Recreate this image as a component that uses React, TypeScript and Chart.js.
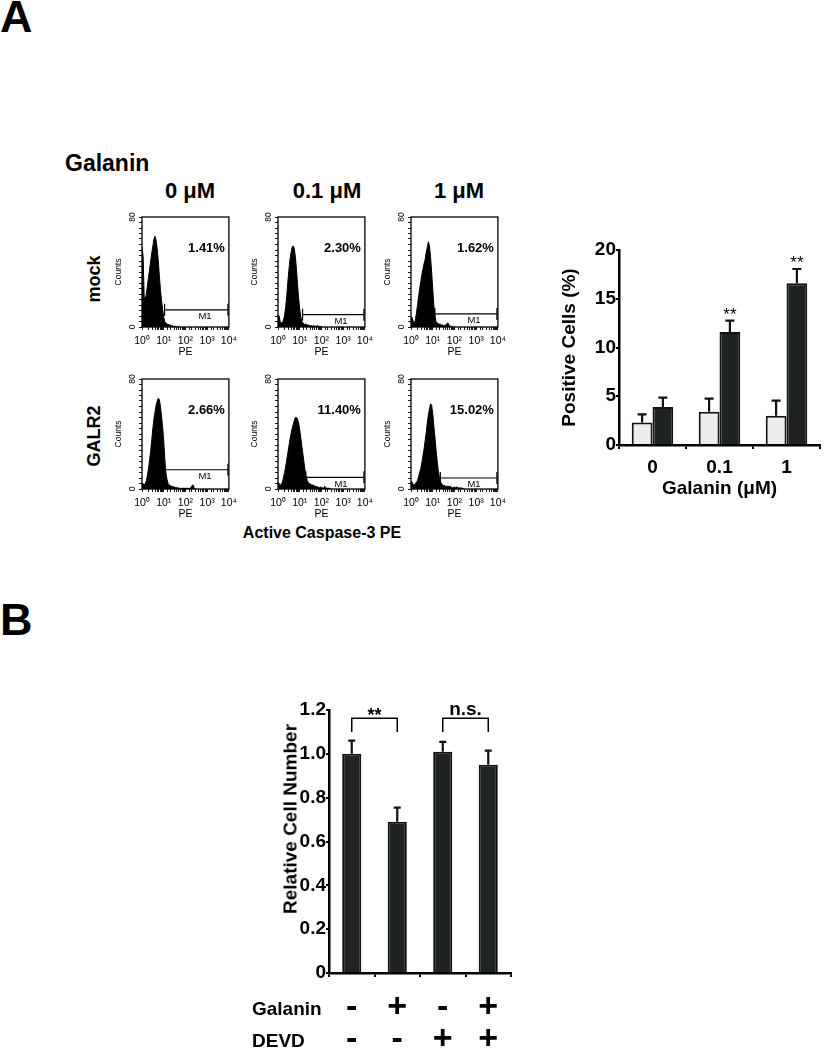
import React, { useEffect, useRef } from 'react';
import { Chart, registerables } from 'chart.js';

Chart.register(...registerables);

const FONT = '"Liberation Sans", Arial, Helvetica, sans-serif';

// ---------------- Panel A: flow histograms ----------------
const concentrationLabels = ['0 μM', '0.1 μM', '1 μM'];
const cellLineLabels = ['mock', 'GALR2'];
const binStep = 0.05; // log10(PE) width of one histogram bin, bins start at 10^0

const histMock0 = [58, 52, 22, 20, 24, 30, 36, 42, 48, 54, 59, 64, 66, 63, 57, 48, 37, 27, 19, 13, 7, 4, 3, 2, 2, 1.5, 1.5, 1, 1, 0.5, 0.5, 0.5, 0, 0.5, 0, 0];
const histMock01 = [9, 8, 4, 3, 3, 5, 8, 14, 22, 32, 41, 49, 54, 58, 59, 57, 51, 42, 31, 21, 13, 7, 4, 3, 2, 2, 2, 1.5, 1.5, 1, 1, 1, 0.5, 1, 0.5, 0.5, 1, 0.5, 0.5, 0, 0.5, 0];
const histMock1 = [7, 7, 4, 3, 5, 10, 16, 22, 28, 33, 38, 42, 46, 49, 54, 58, 62, 59, 51, 40, 28, 16, 8, 4, 3, 2.5, 2, 2, 1.5, 1.5, 1, 1, 1.5, 2.5, 3, 1.5, 0.5, 0.5, 0.5, 0];
const histGalr0 = [4, 4, 3, 4, 6, 10, 15, 21, 28, 36, 44, 51, 56, 61, 64, 66, 65, 60, 53, 45, 35, 22, 12, 7, 4, 3, 2.5, 2, 2, 1.5, 1.5, 1, 1, 1, 0.5, 0.5, 0.5, 0.5, 0.5, 0.5, 0.5, 0.5, 0.5, 0.5, 0.5, 1, 2.5, 3, 1, 0];
const histGalr01 = [5, 4, 3, 3, 5, 8, 12, 16, 21, 26, 31, 36, 40, 44, 47, 50, 52, 52, 51, 48, 43, 37, 31, 25, 19, 13, 9, 6, 4.5, 4, 3.5, 3, 3, 2.5, 2, 2, 1.5, 1.5, 1, 1.5, 1, 1, 0.5, 2, 1, 0.5, 0.5, 0.5, 0.5, 0];
const histGalr1 = [6, 5, 3, 3, 4, 5, 6, 9, 12, 15, 19, 24, 29, 35, 41, 48, 54, 58, 62, 61, 55, 46, 38, 29, 21, 14, 9, 5.5, 4, 3, 2.5, 2.5, 2, 2, 2, 1.5, 2, 1.5, 1, 1, 1.5, 1, 1.5, 1, 1, 0.5, 1, 0.5, 0.5, 0];

const histograms = [histMock0, histMock01, histMock1, histGalr0, histGalr01, histGalr1];
const positivePercentLabels = ['1.41%', '2.30%', '1.62%', '2.66%', '11.40%', '15.02%'];
const m1GateStart = [1.04, 1.13, 1.1, 1.03, 1.28, 1.35]; // log10(PE)
const m1GateLevel = [12.5, 9, 9.5, 14, 8.5, 8]; // counts
const histCountTicks = [0, 80];
const histDecadeLabels = ['10⁰', '10¹', '10²', '10³', '10⁴'];

// ---------------- Panel A: bar chart ----------------
const galaninDoses = ['0', '0.1', '1'];
const mockPositive = [2.3, 3.4, 3.0];
const mockPositiveSD = [0.85, 1.35, 1.55];
const galr2Positive = [3.9, 11.6, 16.6];
const galr2PositiveSD = [0.95, 1.15, 1.45];
const galr2Significance = ['', '**', '**'];

// ---------------- Panel B ----------------
const treatmentGalanin = ['-', '+', '-', '+'];
const treatmentDEVD = ['-', '-', '+', '+'];
const relativeCellNumber = [1.0, 0.69, 1.01, 0.95];
const relativeCellNumberSD = [0.06, 0.065, 0.045, 0.065];
const bracketPairs = [
  { from: 0, to: 1, text: '**', level: 1.162, leg: 1.1 },
  { from: 2, to: 3, text: 'n.s.', level: 1.162, leg: 1.1 },
];

// ---------------- plugins ----------------
const histDecorPlugin = {
  id: 'histDecor',
  afterDraw(chart: any, _a: any, opts: any) {
    const { ctx, chartArea: a, scales } = chart;
    const xs = scales.x;
    const ys = scales.y;
    ctx.save();
    ctx.strokeStyle = '#000';
    ctx.lineWidth = 1.3;
    ctx.strokeRect(a.left, a.top, a.right - a.left, a.bottom - a.top);

    ctx.fillStyle = '#000';
    ctx.font = `8.5px ${FONT}`;
    ctx.textAlign = 'center';
    ctx.textBaseline = 'middle';
    for (const v of histCountTicks) {
      const py = ys.getPixelForValue(v);
      ctx.save();
      ctx.translate(a.left - 9, py);
      ctx.rotate(-Math.PI / 2);
      ctx.fillText(String(v), 0, 0);
      ctx.restore();
    }

    // M1 gate
    const gy = ys.getPixelForValue(opts.m1Level);
    const gx0 = xs.getPixelForValue(Math.pow(10, opts.m1Start));
    const gx1 = a.right - 1;
    ctx.lineWidth = 1.2;
    ctx.beginPath();
    ctx.moveTo(gx0, gy);
    ctx.lineTo(gx1, gy);
    ctx.moveTo(gx0, gy - 6);
    ctx.lineTo(gx0, Math.min(gy + 6, a.bottom));
    ctx.moveTo(gx1, gy - 6);
    ctx.lineTo(gx1, Math.min(gy + 6, a.bottom));
    ctx.stroke();
    ctx.font = `9.5px ${FONT}`;
    ctx.textBaseline = 'top';
    ctx.fillText('M1', xs.getPixelForValue(Math.pow(10, 2.9)), gy + 2);

    ctx.font = `bold 13px ${FONT}`;
    ctx.textAlign = 'right';
    ctx.textBaseline = 'middle';
    ctx.fillText(opts.pct, a.right - 4, a.top + 31);
    ctx.restore();
  },
};

const errorBarPlugin = {
  id: 'errorBars',
  afterDatasetsDraw(chart: any, _a: any, opts: any) {
    const { ctx } = chart;
    const ys = chart.scales.y;
    chart.data.datasets.forEach((ds: any, di: number) => {
      const meta = chart.getDatasetMeta(di);
      if (!ds.sd) return;
      ds.sd.forEach((sd: number, i: number) => {
        const el = meta.data[i];
        const v = ds.data[i];
        const yTop = ys.getPixelForValue(v + sd);
        ctx.save();
        ctx.strokeStyle = '#111';
        ctx.lineWidth = opts.lineWidth;
        ctx.beginPath();
        ctx.moveTo(el.x, el.y);
        ctx.lineTo(el.x, yTop);
        ctx.moveTo(el.x - opts.cap / 2, yTop);
        ctx.lineTo(el.x + opts.cap / 2, yTop);
        ctx.stroke();
        if (ds.marks && ds.marks[i]) {
          ctx.fillStyle = '#000';
          ctx.font = `17px ${FONT}`;
          ctx.textAlign = 'center';
          ctx.textBaseline = 'alphabetic';
          ctx.fillText(ds.marks[i], el.x, yTop - 1);
        }
        ctx.restore();
      });
    });
  },
};

const bracketPlugin = {
  id: 'brackets',
  afterDatasetsDraw(chart: any) {
    const { ctx } = chart;
    const ys = chart.scales.y;
    const meta = chart.getDatasetMeta(0);
    ctx.save();
    ctx.strokeStyle = '#000';
    ctx.fillStyle = '#000';
    ctx.lineWidth = 1.5;
    for (const b of bracketPairs) {
      const x0 = meta.data[b.from].x;
      const x1 = meta.data[b.to].x;
      const yl = ys.getPixelForValue(b.level);
      const yg = ys.getPixelForValue(b.leg);
      ctx.beginPath();
      ctx.moveTo(x0, yg);
      ctx.lineTo(x0, yl);
      ctx.lineTo(x1, yl);
      ctx.lineTo(x1, yg);
      ctx.stroke();
      ctx.textAlign = 'center';
      ctx.textBaseline = 'alphabetic';
      if (b.text === '**') {
        ctx.font = `bold 18px ${FONT}`;
        ctx.fillText(b.text, (x0 + x1) / 2, yl + 2.5);
      } else {
        ctx.font = `bold 19px ${FONT}`;
        ctx.fillText(b.text, (x0 + x1) / 2, yl - 3.5);
      }
    }
    ctx.restore();
  },
};

// ---------------- configs ----------------
function histogramConfig(idx: number): any {
  const counts = histograms[idx];
  const points = counts.map((c, i) => ({ x: Math.pow(10, i * binStep), y: c }));
  return {
    type: 'line',
    data: {
      datasets: [
        {
          data: points,
          fill: 'origin',
          backgroundColor: '#000',
          borderColor: '#000',
          borderWidth: 1,
          pointRadius: 0,
          tension: 0,
        },
      ],
    },
    options: {
      responsive: false,
      animation: false,
      events: [],
      layout: { padding: { left: 2, right: 10, top: 10, bottom: 2 } },
      plugins: {
        legend: { display: false },
        tooltip: { enabled: false },
        histDecor: { pct: positivePercentLabels[idx], m1Start: m1GateStart[idx], m1Level: m1GateLevel[idx] },
      },
      scales: {
        x: {
          type: 'logarithmic',
          min: 1,
          max: 10000,
          border: { display: false },
          grid: { drawOnChartArea: false, drawTicks: true, tickLength: 3, color: '#000', lineWidth: 0.9 },
          ticks: {
            autoSkip: false,
            maxRotation: 0,
            minRotation: 0,
            padding: 5,
            color: '#000',
            font: { family: FONT, size: 10.5 },
            callback: (v: number) => {
              const l = Math.log10(v);
              const r = Math.round(l);
              return Math.abs(l - r) < 1e-6 ? histDecadeLabels[r] : '';
            },
          },
          title: { display: true, text: 'PE', padding: 0, color: '#000', font: { family: FONT, size: 10.5 } },
          afterFit: (s: any) => {
            s.height = 31;
          },
        },
        y: {
          min: 0,
          max: 80,
          border: { display: false },
          grid: { drawOnChartArea: false, drawTicks: true, tickLength: 3, color: '#000', lineWidth: 0.9 },
          ticks: { display: false, stepSize: 4 },
          title: { display: true, text: 'Counts', padding: 0, color: '#000', font: { family: FONT, size: 8.5 } },
          afterFit: (s: any) => {
            s.width = 28;
          },
        },
      },
    },
    plugins: [histDecorPlugin],
  };
}

function barAConfig(): any {
  const bold19 = { family: FONT, size: 19, weight: 'bold' };
  return {
    type: 'bar',
    data: {
      labels: galaninDoses,
      datasets: [
        {
          label: 'mock',
          data: mockPositive,
          sd: mockPositiveSD,
          backgroundColor: '#eceeed',
          borderColor: '#111',
          borderWidth: 2,
          categoryPercentage: 0.62,
          barPercentage: 1,
        },
        {
          label: 'GALR2',
          data: galr2Positive,
          sd: galr2PositiveSD,
          marks: galr2Significance,
          backgroundColor: '#1e2222',
          borderColor: '#111',
          borderWidth: 2,
          categoryPercentage: 0.62,
          barPercentage: 1,
        },
      ],
    },
    options: {
      responsive: false,
      animation: false,
      events: [],
      layout: { padding: { left: 0, right: 7, top: 25, bottom: 10 } },
      plugins: { legend: { display: false }, tooltip: { enabled: false }, errorBars: { lineWidth: 2.2, cap: 9 } },
      scales: {
        x: {
          border: { display: true, width: 2.5, color: '#000' },
          grid: { offset: true, drawOnChartArea: false, tickLength: 4, color: '#000', lineWidth: 2 },
          ticks: { color: '#000', font: bold19, padding: 7 },
          title: { display: true, text: 'Galanin (μM)', padding: 0, color: '#000', font: bold19 },
          afterFit: (s: any) => {
            s.height = 55;
          },
        },
        y: {
          min: 0,
          max: 20,
          border: { display: true, width: 2.5, color: '#000' },
          grid: { drawOnChartArea: false, tickLength: 3, color: '#000', lineWidth: 2 },
          ticks: { stepSize: 5, color: '#000', font: bold19, padding: 0 },
          title: { display: true, text: 'Positive Cells (%)', padding: 0, color: '#000', font: bold19 },
          afterFit: (s: any) => {
            s.width = 61;
          },
        },
      },
    },
    plugins: [errorBarPlugin],
  };
}

function barBConfig(): any {
  const bold19 = { family: FONT, size: 19, weight: 'bold' };
  return {
    type: 'bar',
    data: {
      labels: treatmentGalanin.map((g, i) => [g, treatmentDEVD[i]]),
      datasets: [
        {
          label: 'Relative Cell Number',
          data: relativeCellNumber,
          sd: relativeCellNumberSD,
          backgroundColor: '#1f2323',
          borderColor: '#111',
          borderWidth: 2,
          categoryPercentage: 1,
          barPercentage: 0.42,
        },
      ],
    },
    options: {
      responsive: false,
      animation: false,
      events: [],
      layout: { padding: { left: 0, right: 19, top: 20, bottom: 0 } },
      plugins: { legend: { display: false }, tooltip: { enabled: false }, errorBars: { lineWidth: 2.2, cap: 7 } },
      scales: {
        x: {
          border: { display: true, width: 2.5, color: '#000' },
          grid: { offset: true, drawOnChartArea: false, tickLength: 4, color: '#000', lineWidth: 2 },
          ticks: { color: '#000', font: { family: FONT, size: 34, weight: 'bold', lineHeight: '32px' }, padding: 15 },
          afterFit: (s: any) => {
            s.height = 77;
          },
        },
        y: {
          min: 0,
          max: 1.2,
          border: { display: true, width: 2.5, color: '#000' },
          grid: { drawOnChartArea: false, tickLength: 3, color: '#000', lineWidth: 2 },
          ticks: {
            stepSize: 0.2,
            color: '#000',
            font: bold19,
            padding: 0,
            callback: (v: number) => (Math.abs(v) < 1e-9 ? '0' : v.toFixed(1)),
          },
          afterFit: (s: any) => {
            s.width = 49;
          },
        },
      },
    },
    plugins: [errorBarPlugin, bracketPlugin],
  };
}

// ---------------- components ----------------
function ChartCanvas(props: { left: number; top: number; width: number; height: number; make: () => any }) {
  const ref = useRef<HTMLCanvasElement>(null);
  useEffect(() => {
    const chart = new Chart(ref.current as HTMLCanvasElement, props.make());
    return () => chart.destroy();
  }, []);
  return (
    <canvas
      ref={ref}
      width={props.width}
      height={props.height}
      style={{ position: 'absolute', left: props.left, top: props.top, width: props.width, height: props.height }}
    />
  );
}

function Txt(props: {
  x: number;
  y: number;
  size: number;
  text: string;
  rotate?: boolean;
  anchor?: 'center' | 'left';
  weight?: string;
}) {
  const tr =
    (props.anchor === 'left' ? 'translate(0,-50%)' : 'translate(-50%,-50%)') + (props.rotate ? ' rotate(-90deg)' : '');
  return (
    <div
      style={{
        position: 'absolute',
        left: props.x,
        top: props.y,
        fontSize: props.size,
        fontWeight: (props.weight || 'bold') as any,
        lineHeight: 1,
        whiteSpace: 'nowrap',
        transform: tr,
        transformOrigin: props.anchor === 'left' ? '0 50%' : '50% 50%',
      }}
    >
      {props.text}
    </div>
  );
}

const histFrameLefts = [142, 278, 411];
const histFrameTops = [217, 379];
const headerCenters = [190, 327, 459];
const rowLabelCenters = [279, 436];

export default function App() {
  const hists: any[] = [];
  histFrameTops.forEach((top, r) => {
    histFrameLefts.forEach((left, c) => {
      const idx = r * 3 + c;
      hists.push(
        <ChartCanvas key={idx} left={left - 30} top={top - 10} width={130} height={153} make={() => histogramConfig(idx)} />
      );
    });
  });
  return (
    <div
      style={{
        position: 'absolute',
        left: 0,
        top: 0,
        width: 827,
        height: 1050,
        background: '#fff',
        overflow: 'hidden',
        fontFamily: FONT,
        color: '#000',
      }}
    >
      {hists}
      <ChartCanvas left={558} top={225} width={269} height={285} make={barAConfig} />
      <ChartCanvas left={280} top={690} width={250} height={360} make={barBConfig} />

      <Txt x={0} y={16} size={45} text="A" anchor="left" />
      <Txt x={0} y={619} size={45} text="B" anchor="left" />
      <Txt x={65} y={162.5} size={23} text="Galanin" anchor="left" />
      {concentrationLabels.map((t, i) => (
        <Txt key={t} x={headerCenters[i]} y={190.5} size={22} text={t} />
      ))}
      {cellLineLabels.map((t, i) => (
        <Txt key={t} x={93.5} y={rowLabelCenters[i]} size={18} text={t} rotate />
      ))}
      <Txt x={322} y={533} size={16} text="Active Caspase-3 PE" />
      <Txt x={290} y={819} size={19} text="Relative Cell Number" rotate />
      <Txt x={252} y={1008.3} size={19} text="Galanin" anchor="left" />
      <Txt x={252} y={1040} size={19} text="DEVD" anchor="left" />
    </div>
  );
}
